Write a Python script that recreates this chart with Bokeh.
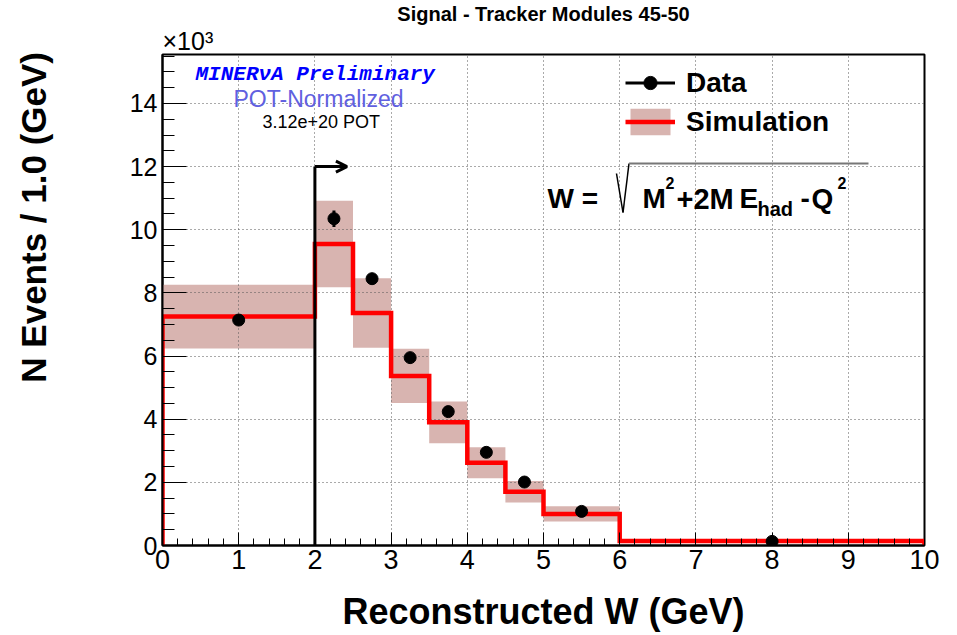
import numpy as np
from bokeh.plotting import figure
from bokeh.models import (Label, Arrow, OpenHead, Legend, LegendItem, Title,
                          SingleIntervalTicker, Range1d, ColumnDataSource)
from bokeh.embed import file_html
from bokeh.resources import INLINE

# ---------------- data (values in units of 10^3 events / GeV) ----------------
bin_edges = [0.0, 2.0, 2.5, 3.0, 3.5, 4.0, 4.5, 5.0, 6.0, 10.0]
sim_values = [7.25, 9.55, 7.36, 5.37, 3.90, 2.62, 1.70, 1.00, 0.14]
sim_errors = [1.01, 1.37, 1.10, 0.86, 0.66, 0.49, 0.34, 0.24, 0.04]
data_values = [7.14, 10.35, 8.45, 5.95, 4.24, 2.95, 2.01, 1.08, 0.13]
data_errors = [0.08, 0.26, 0.16, 0.14, 0.12, 0.10, 0.08, 0.05, 0.02]
cut_value = 2.0
cut_arrow_height = 12.0
cut_arrow_length = 0.42
x_ticks_interval = 1
y_ticks_interval = 2

edges = np.array(bin_edges)
sim = np.array(sim_values)
serr = np.array(sim_errors)
dat = np.array(data_values)
derr = np.array(data_errors)
centers = 0.5 * (edges[:-1] + edges[1:])

W, H = 957, 635
# frame position in the picture (px)
FL, FT, FR, FB = 162, 49, 924, 545

p = figure(width=W, height=H, output_backend="svg", toolbar_location=None,
           title=None,
           x_range=Range1d(0, 10), y_range=Range1d(0, 15.55),
           min_border_left=FL, min_border_right=W - FR, min_border_top=FT,
           min_border_bottom=H - FB)
p.background_fill_color = "white"
p.border_fill_color = "white"
p.outline_line_color = "black"
p.outline_line_width = 2

# titles above the frame (first added sits nearest the frame)
p.add_layout(Title(text="\u00d710\u00b3", align="left", text_font="Liberation Sans",
                   text_font_size="25px", text_font_style="normal",
                   text_color="black", standoff=0), "above")
p.add_layout(Title(text="Signal - Tracker Modules 45-50", align="center",
                   text_font="Liberation Sans", text_font_size="20px",
                   text_font_style="bold", text_color="black", standoff=0),
             "above")

# axes
for ax in (p.xaxis[0], p.yaxis[0]):
    ax.axis_line_color = "black"
    ax.axis_line_width = 2
    ax.major_tick_line_color = "black"
    ax.minor_tick_line_color = "black"
    ax.major_tick_out = 0
    ax.minor_tick_out = 0
    ax.major_label_text_font = "Liberation Sans"
    ax.major_label_text_color = "black"
    ax.axis_label_text_font = "Liberation Sans"
    ax.axis_label_text_font_style = "bold"
    ax.axis_label_text_color = "black"
p.xaxis.ticker = SingleIntervalTicker(interval=x_ticks_interval, num_minor_ticks=5)
p.yaxis.ticker = SingleIntervalTicker(interval=y_ticks_interval, num_minor_ticks=4)
p.xaxis.major_tick_in = 13
p.xaxis.minor_tick_in = 7
p.yaxis.major_tick_in = 24
p.yaxis.minor_tick_in = 12
p.xaxis.major_label_text_font_size = "27px"
p.yaxis.major_label_text_font_size = "25px"
p.xaxis.major_label_standoff = 4
p.yaxis.major_label_standoff = 5

p.xaxis.axis_label = "Reconstructed W (GeV)"
p.xaxis.axis_label_text_font_size = "36px"
p.xaxis.axis_label_standoff = 19
# leading no-break spaces push the label toward the top end of the axis
p.yaxis.axis_label = "\u00a0" * 17 + "N Events / 1.0 (GeV)"
p.yaxis.axis_label_text_font_size = "35px"
p.yaxis.axis_label_standoff = 74

for g in (p.xgrid[0], p.ygrid[0]):
    g.grid_line_color = "#555555"
    g.grid_line_dash = "1 3"
    g.grid_line_width = 1
p.xgrid.ticker = SingleIntervalTicker(interval=x_ticks_interval)
p.ygrid.ticker = SingleIntervalTicker(interval=y_ticks_interval)

# simulation error band
band_src = ColumnDataSource(dict(left=edges[:-1], right=edges[1:],
                                 bottom=sim - serr, top=sim + serr))
r_band = p.quad(left="left", right="right", bottom="bottom", top="top",
                source=band_src, fill_color="#d8b4b0", line_color=None,
                level="image")

# simulation histogram outline
hx, hy = [edges[0]], [0.0]
for i, v in enumerate(sim):
    hx += [edges[i], edges[i + 1]]
    hy += [v, v]
hx.append(edges[-1])
hy.append(0.0)
r_line = p.line(hx, hy, line_color="#ff0000", line_width=4.5, line_join="miter")

# data
r_err = p.segment(x0=centers, y0=dat - derr, x1=centers, y1=dat + derr,
                  line_color="black", line_width=3)
r_pts = p.scatter(centers, dat, size=12, marker="circle", fill_color="black",
                  line_color="black")

# cut arrow
p.add_layout(Arrow(end=None, x_start=cut_value, y_start=0, x_end=cut_value,
                   y_end=cut_arrow_height, line_color="black", line_width=3))
p.add_layout(Arrow(end=OpenHead(size=11, line_width=3, line_color="black"),
                   x_start=cut_value, y_start=cut_arrow_height,
                   x_end=cut_value + cut_arrow_length, y_end=cut_arrow_height,
                   line_color="black", line_width=3))

# legend
legend = Legend(items=[LegendItem(label="Data", renderers=[r_err, r_pts]),
                       LegendItem(label="Simulation", renderers=[r_band, r_line])],
                location=(625 - FL, FB - 138), glyph_width=50, glyph_height=33,
                label_text_font="Liberation Sans", label_text_font_style="bold",
                label_text_font_size="28px", label_text_color="black",
                spacing=6, padding=0, margin=0,
                border_line_alpha=0, background_fill_alpha=0, label_standoff=11)
p.add_layout(legend)


def lab(text, ix, iy, size, style="normal", color="black",
        font="Liberation Sans", align="left"):
    p.add_layout(Label(x=ix - FL, y=FB - iy, x_units="screen", y_units="screen",
                       text=text, text_font=font, text_font_size=f"{size}px",
                       text_font_style=style, text_color=color,
                       text_align=align, text_baseline="alphabetic"))


def seg(x0, y0, x1, y1, color="black", width=1.5):
    p.add_layout(Arrow(end=None, start_units="screen", end_units="screen",
                       x_start=x0 - FL, y_start=FB - y0, x_end=x1 - FL,
                       y_end=FB - y1, line_color=color, line_width=width))


# annotations inside the frame
lab("MINER\u03bdA Preliminary", 195, 74, 21, "bold italic", color="#0000ff",
    font="Liberation Mono")
lab("POT-Normalized", 233, 98, 23, color="#6060e0")
lab("3.12e+20 POT", 262, 121, 18)

# formula W = sqrt(M^2 + 2 M E_had - Q^2)
lab("W =", 547, 198, 28, "bold")
seg(616, 173, 622.5, 212)
seg(622.5, 212, 628.5, 163)
seg(628.5, 163, 868, 163, color="#777777", width=2)
lab("M", 642, 198, 28, "bold")
lab("2", 665, 182, 16, "bold")
lab("+2M", 676, 198, 29, "bold")
lab("E", 739, 198, 28, "bold")
lab("had", 757, 208, 20, "bold")
lab("-", 800, 198, 28, "bold")
lab("Q", 811, 198, 28, "bold")
lab("2", 837, 182, 16, "bold")

open("out.html", "w").write(file_html(p, INLINE))
